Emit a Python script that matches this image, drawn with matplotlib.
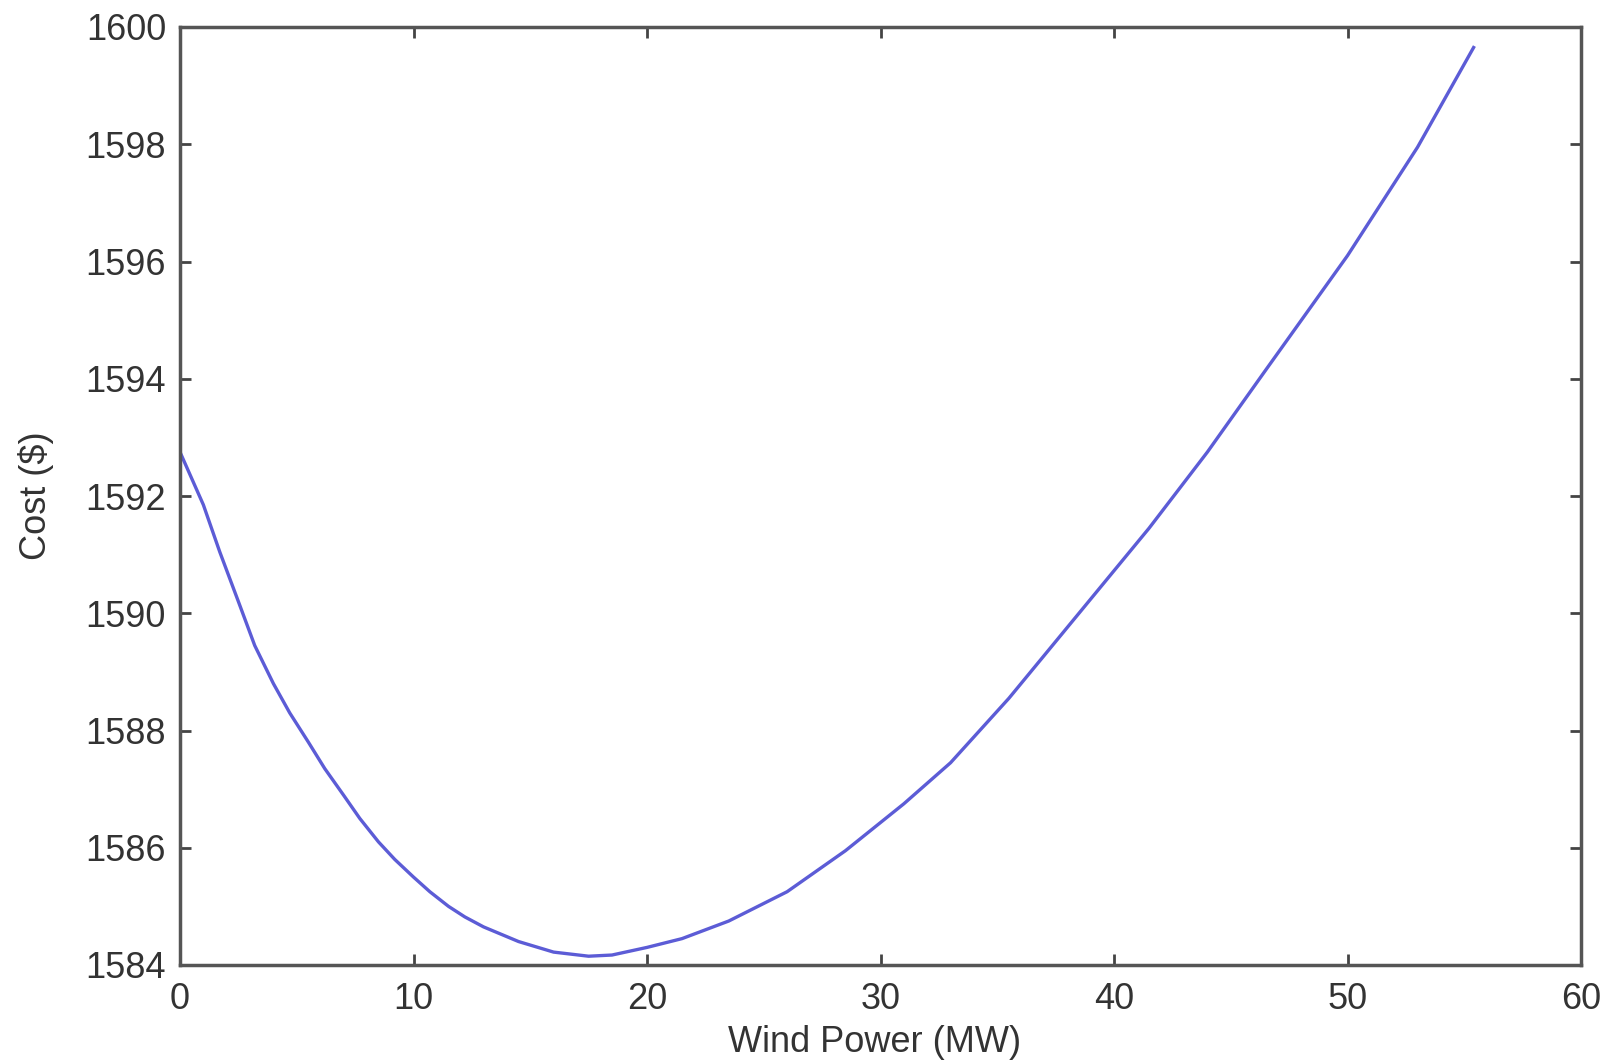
import matplotlib
matplotlib.use("Agg")
import matplotlib.pyplot as plt

# Data
wind_power = [0, 0.5, 1, 1.7, 2.5, 3.2, 4, 4.7, 5.5, 6.2, 7, 7.7, 8.5, 9.2,
              10, 10.7, 11.5, 12.2, 13, 14.5, 16, 17.5, 18.5, 20, 21.5, 23.5,
              26, 28.5, 31, 33, 35.5, 38.5, 41.5, 44, 46.5, 50, 53, 55.4]
cost = [1592.75, 1592.3, 1591.85, 1591.05, 1590.2, 1589.45, 1588.8, 1588.3,
        1587.8, 1587.35, 1586.9, 1586.5, 1586.1, 1585.8, 1585.5, 1585.25,
        1585.0, 1584.82, 1584.65, 1584.4, 1584.22, 1584.15, 1584.17, 1584.3,
        1584.45, 1584.75, 1585.25, 1585.95, 1586.75, 1587.45, 1588.55, 1590.0,
        1591.45, 1592.75, 1594.15, 1596.1, 1597.95, 1599.65]

x_ticks = [0, 10, 20, 30, 40, 50, 60]
y_ticks = [1584, 1586, 1588, 1590, 1592, 1594, 1596, 1598, 1600]

plt.rcParams['font.family'] = ['Liberation Sans', 'DejaVu Sans']

fig = plt.figure(figsize=(16.03, 10.61), dpi=100)
ax = fig.add_axes([180/1603, 1 - 965/1061, (1581-180)/1603, (965-27)/1061])

ax.plot(wind_power, cost, color='#5c5cd6', lw=2.4, solid_joinstyle='round')

ax.set_xlim(0, 60)
ax.set_ylim(1584, 1600)
ax.set_xticks(x_ticks)
ax.set_yticks(y_ticks)

txt = '#333333'
ax.tick_params(direction='in', length=8, width=2, colors='#444444',
               labelcolor=txt, labelsize=26, top=True, right=True)
ax.tick_params(axis='x', pad=12)
ax.tick_params(axis='y', pad=10)
for s in ax.spines.values():
    s.set_linewidth(2.5)
    s.set_color('#555555')

ax.set_xlabel('Wind Power (MW)', fontsize=26, color=txt)
ax.set_ylabel('Cost ($)', fontsize=26, color=txt)
ax.xaxis.set_label_coords(0.496, -0.064)
ax.yaxis.set_label_coords(-0.09, 0.5)

fig.savefig('out.png', dpi=100, facecolor='white')
